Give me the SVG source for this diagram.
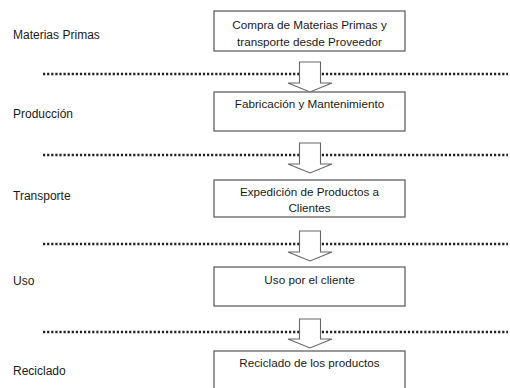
<svg xmlns="http://www.w3.org/2000/svg" width="510" height="388" viewBox="0 0 510 388">
<style>
.box{fill:#fff;stroke:#555;stroke-width:1.2}
.t{font-family:"Liberation Sans",Arial,sans-serif;font-size:11.7px;fill:#1a1a1a;text-anchor:middle}
.lbl{font-family:"Liberation Sans",Arial,sans-serif;font-size:12px;fill:#1a1a1a}
.dot{stroke:#222;stroke-width:2.4;stroke-dasharray:2.2 1.9;fill:none}
.arr{fill:#fff;stroke:#666;stroke-width:1.1;stroke-linejoin:miter}
</style>
<rect width="510" height="388" fill="#fff"/>
<g id="stage-labels">
<text class="lbl" x="13" y="39">Materias<tspan dx="3.5">Primas</tspan></text>
<text class="lbl" x="13" y="118">Producción</text>
<text class="lbl" x="13" y="200">Transporte</text>
<text class="lbl" x="13" y="285">Uso</text>
<text class="lbl" x="13" y="375">Reciclado</text>
</g>
<g id="separators">
<line class="dot" x1="43" y1="74" x2="508" y2="74"/>
<line class="dot" x1="43" y1="155" x2="508" y2="155"/>
<line class="dot" x1="43" y1="244" x2="508" y2="244"/>
<line class="dot" x1="43" y1="332" x2="508" y2="332"/>
</g>
<g id="node1">
<rect class="box" x="214" y="11" width="191" height="40"/>
<text class="t" x="309.5" y="29">Compra de Materias Primas y</text>
<text class="t" x="309.5" y="46">transporte desde Proveedor</text>
</g>
<g id="node2">
<rect class="box" x="214" y="92" width="191" height="39"/>
<text class="t" x="309.5" y="108">Fabricación y Mantenimiento</text>
</g>
<g id="node3">
<rect class="box" x="214" y="180" width="191" height="37"/>
<text class="t" x="309.5" y="196">Expedición de Productos a</text>
<text class="t" x="309.5" y="212">Clientes</text>
</g>
<g id="node4">
<rect class="box" x="214" y="267" width="191" height="39"/>
<text class="t" x="309.5" y="284">Uso por el cliente</text>
</g>
<g id="node5">
<rect class="box" x="214" y="351" width="191" height="45"/>
<text class="t" x="309.5" y="367">Reciclado de los productos</text>
</g>
<g id="connectors">
<path class="arr" d="M299.5 62H320.5V83H332L310 92L288 83H299.5Z"/>
<path class="arr" d="M299.5 143H320.5V164H332L310 173L288 164H299.5Z"/>
<path class="arr" d="M299.5 231H320.5V252H332L310 261L288 252H299.5Z"/>
<path class="arr" d="M299.5 319H320.5V339H332L310 348L288 339H299.5Z"/>
</g>
</svg>
